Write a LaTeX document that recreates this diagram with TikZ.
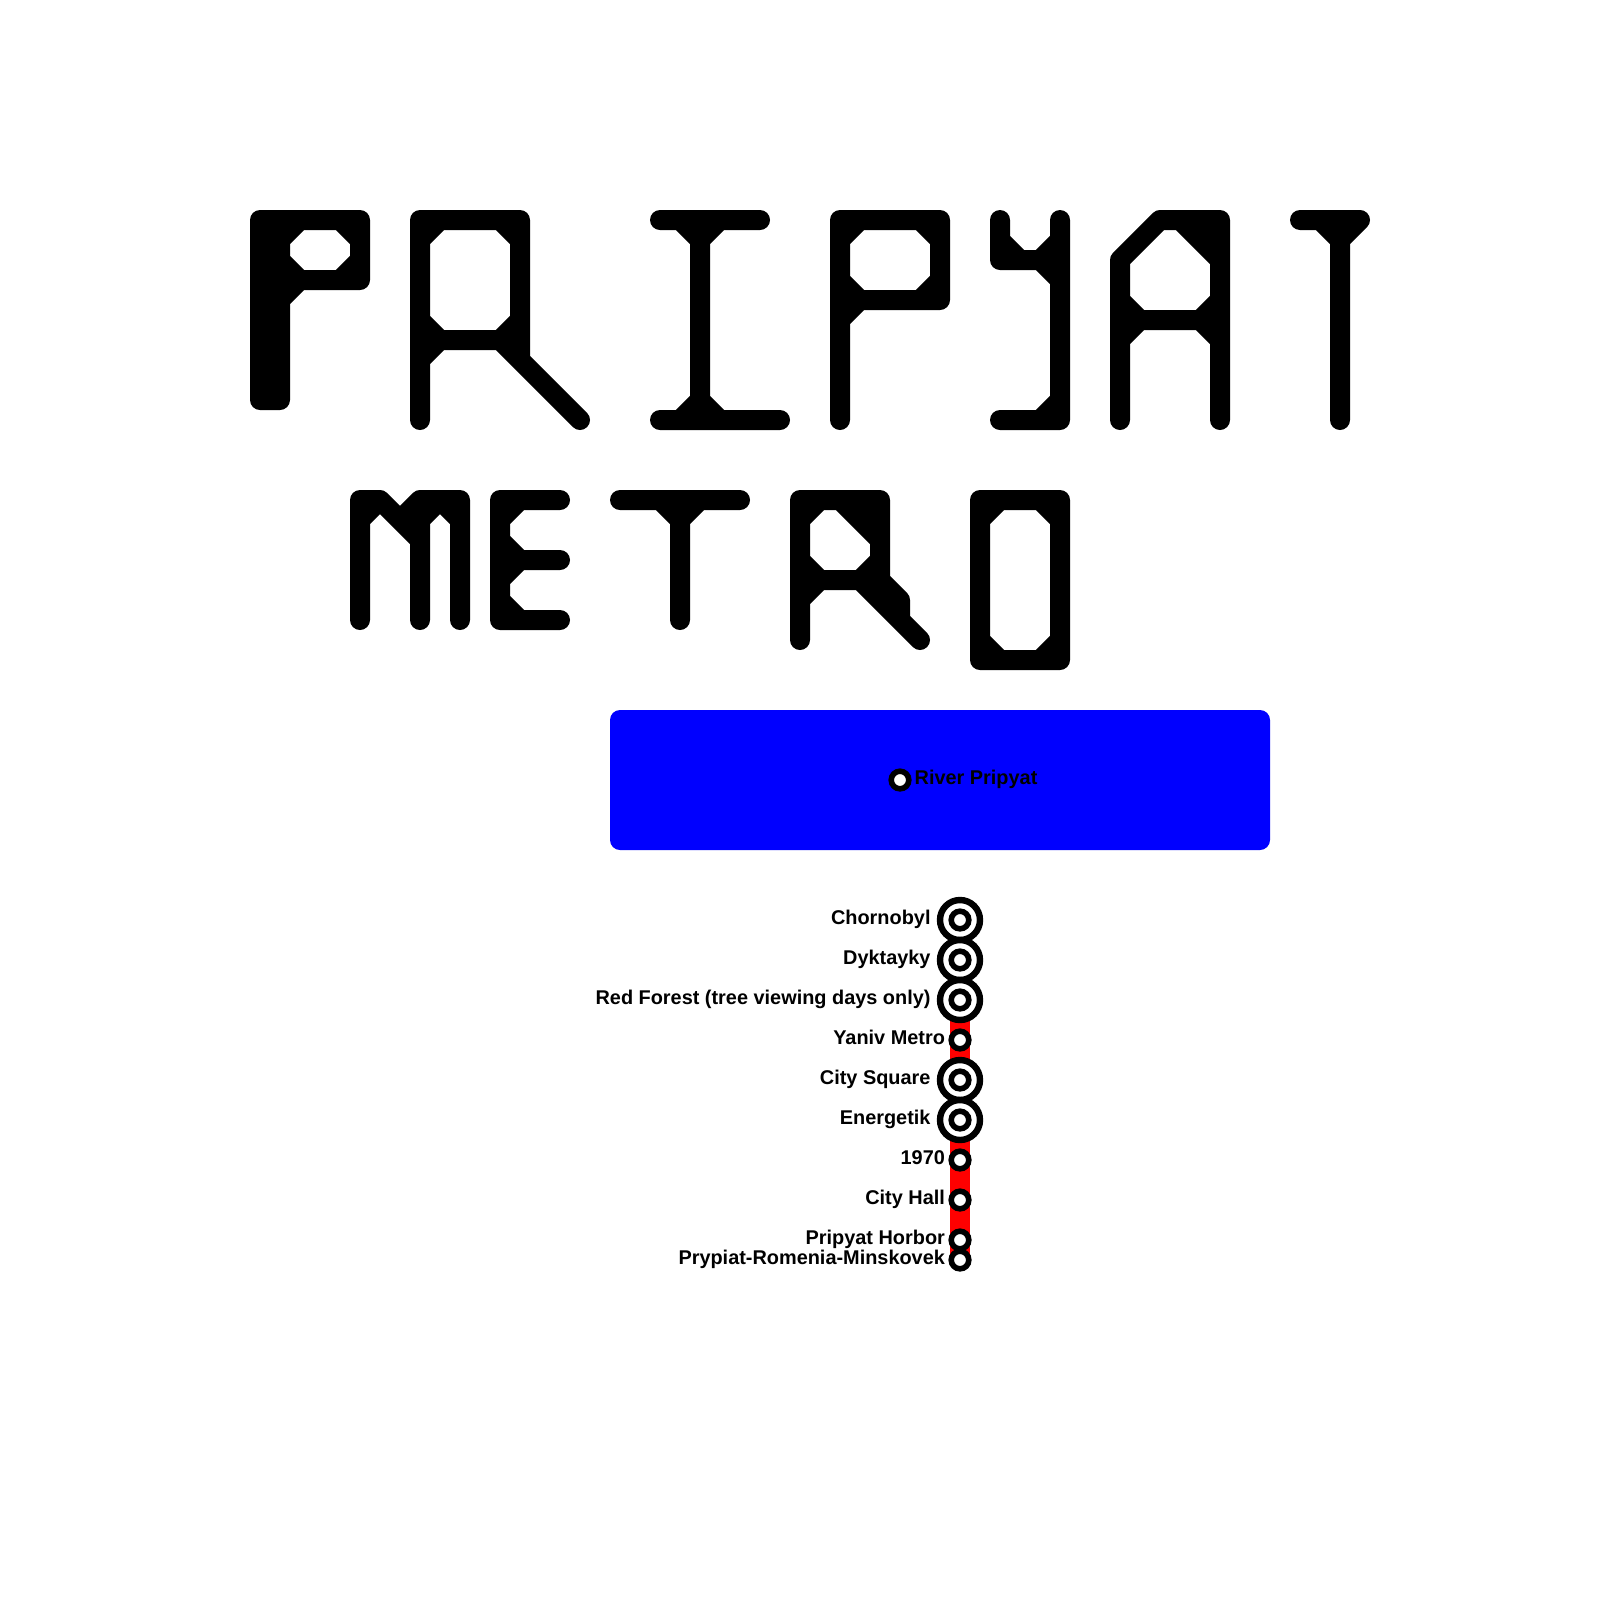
\documentclass[tikz,border=0pt]{standalone}
\usepackage{fontspec}
\setmainfont{Liberation Sans}
\definecolor{lineRed}{RGB}{255,0,0}
\definecolor{riverBlue}{RGB}{0,0,255}
\usetikzlibrary{positioning,backgrounds}

\begin{document}
\begin{tikzpicture}[x=0.5cm, y=-0.5cm,
    glyph/.style={draw, line width=5mm, line cap=round, line join=round},
    station/.style={draw, circle, fill=white, line width=1.4mm,
                    minimum size=4.4mm, inner sep=0pt},
    ringstation/.style={draw, circle, fill=white, line width=1.6mm,
                        minimum size=10mm, inner sep=0pt},
    stationlabel/.style={font=\fontsize{14.15pt}{16pt}\selectfont\bfseries,
                         inner sep=0pt, text height=3.45mm, text depth=1mm},
    metroline/.style={lineRed, line width=5mm, line cap=round}
  ]
    \useasboundingbox (0, 0) rectangle (80, 80);

    % Top word: P
    \draw[glyph] (13, 11) -- (18, 11) -- (18, 14) -- (13, 14)
      (13, 11) -- (13, 20) (14, 11) -- (14, 20) -- (13, 20)
      (14, 12) -- (15, 11) (17, 11) -- (18, 12)
      (14, 13) -- (15, 14) (17, 14) -- (18, 13) (14, 15) -- (15, 14);

    % Top word: R
    \draw[glyph] (21, 21) -- (21, 11) -- (26, 11) -- (26, 18) (26, 17) -- (21, 17)
      (25, 17) -- (29, 21)
      (21, 12) -- (22, 11) (25, 11) -- (26, 12)
      (21, 16) -- (22, 17) (25, 17) -- (26, 16) (21, 18) -- (22, 17);

    % Top word: I
    \draw[glyph] (33, 11) -- (38, 11) (33, 21) -- (39, 21) (35, 11) -- (35, 21)
      (34, 11) -- (35, 12) -- (36, 11) (34, 21) -- (35, 20) -- (36, 21);

    % Top word: P
    \draw[glyph] (42, 21) -- (42, 11) -- (47, 11) -- (47, 15) -- (42, 15)
      (42, 12) -- (43, 11) (46, 11) -- (47, 12)
      (42, 14) -- (43, 15) (46, 15) -- (47, 14) (42, 16) -- (43, 15);

    % Top word: Y
    \draw[glyph] (50, 11) -- (50, 13) -- (53, 13)
      (53, 11) -- (53, 21) -- (50, 21)
      (50, 12) -- (51, 13) (52, 13) -- (53, 12)
      (52, 13) -- (53, 14) (52, 21) -- (53, 20);

    % Top word: A
    \draw[glyph] (56, 21) -- (56, 13) -- (58, 11) -- (61, 11) -- (61, 21)
      (56, 16) -- (61, 16) (59, 11) -- (61, 13) (60, 11) -- (60, 12) -- (61, 12)
      (56, 15) -- (57, 16) (60, 16) -- (61, 15)
      (56, 17) -- (57, 16) (60, 16) -- (61, 17);

    % Top word: T
    \draw[glyph] (65, 11) -- (68, 11) (67, 11) -- (67, 21)
      (66, 11) -- (67, 12) -- (68, 11);

    % Bottom word: M
    \draw[glyph] (18, 31) -- (18, 25) -- (19, 25) -- (21, 27)
      (20, 26) -- (21, 25) -- (23, 25) -- (23, 31)
      (21, 25) -- (21, 31)
      (18, 26) -- (19, 25) (21, 26) -- (22, 25) -- (23, 26);

    % Bottom word: E
    \draw[glyph] (28, 25) -- (25, 25) -- (25, 31) -- (28, 31) (25, 28) -- (28, 28)
      (25, 26) -- (26, 25) (25, 27) -- (26, 28) -- (25, 29) (25, 30) -- (26, 31);

    % Bottom word: T
    \draw[glyph] (31, 25) -- (37, 25) (34, 25) -- (34, 31)
      (33, 25) -- (34, 26) -- (35, 25);

    % Bottom word: R
    \draw[glyph] (40, 32) -- (40, 25) -- (44, 25) -- (44, 29) -- (40, 29)
      (42, 25) -- (44, 27) (43, 25) -- (43, 26) -- (44, 26)
      (43, 29) -- (46, 32) (44, 29) -- (45, 30) -- (45, 31)
      (40, 26) -- (41, 25) (40, 28) -- (41, 29) (43, 29) -- (44, 28) (40, 30) -- (41, 29);

    % Bottom word: O
    \draw[glyph] (49, 25) -- (53, 25) -- (53, 33) -- (49, 33) -- cycle
      (49, 26) -- (50, 25) (52, 25) -- (53, 26)
      (49, 32) -- (50, 33) (52, 33) -- (53, 32);

    % River
    \node[fill=riverBlue, rounded corners=2.5mm, minimum width=16.5cm,
          minimum height=3.5cm, inner sep=0pt] (river) at (47, 39) {};
    \node[station] (pripyat) at (45, 39) {};
    \node[stationlabel, right=0.7mm of pripyat] (pripyatlabel) {River Pripyat};

    % Stations, top to bottom
    \node[ringstation] (chornobylring) at (48, 46) {};
    \node[station] (chornobyl) at (48, 46) {};
    \node[stationlabel, left=1.5mm of chornobylring] (chornobyllabel) {Chornobyl};

    \node[ringstation] (dyktaykyring) at (48, 48) {};
    \node[station] (dyktayky) at (48, 48) {};
    \node[stationlabel, left=1.5mm of dyktaykyring] (dyktaykylabel) {Dyktayky};

    \node[ringstation] (forestring) at (48, 50) {};
    \node[station] (forest) at (48, 50) {};
    \node[stationlabel, left=1.5mm of forestring] (forestlabel)
      {Red Forest (tree viewing days only)};

    \node[station] (yaniv) at (48, 52) {};
    \node[stationlabel, left=0.8mm of yaniv] (yanivlabel) {Yaniv Metro};

    \node[ringstation] (squarering) at (48, 54) {};
    \node[station] (square) at (48, 54) {};
    \node[stationlabel, left=1.5mm of squarering] (squarelabel) {City Square};

    \node[ringstation] (energetikring) at (48, 56) {};
    \node[station] (energetik) at (48, 56) {};
    \node[stationlabel, left=1.5mm of energetikring] (energetiklabel) {Energetik};

    \node[station] (seventy) at (48, 58) {};
    \node[stationlabel, left=0.8mm of seventy] (seventylabel) {1970};

    \node[station] (hall) at (48, 60) {};
    \node[stationlabel, left=0.8mm of hall] (halllabel) {City Hall};

    \node[station] (horbor) at (48, 62) {};
    \node[stationlabel, left=0.8mm of horbor] (horborlabel) {Pripyat Horbor};

    \node[station] (romenia) at (48, 63) {};
    \node[stationlabel, left=0.8mm of romenia] (romenialabel) {Prypiat-Romenia-Minskovek};

    % The line runs under its stations
    \begin{scope}[on background layer]
      \draw[metroline] (chornobyl.center) -- (romenia.center);
    \end{scope}
  \end{tikzpicture}
\end{document}
